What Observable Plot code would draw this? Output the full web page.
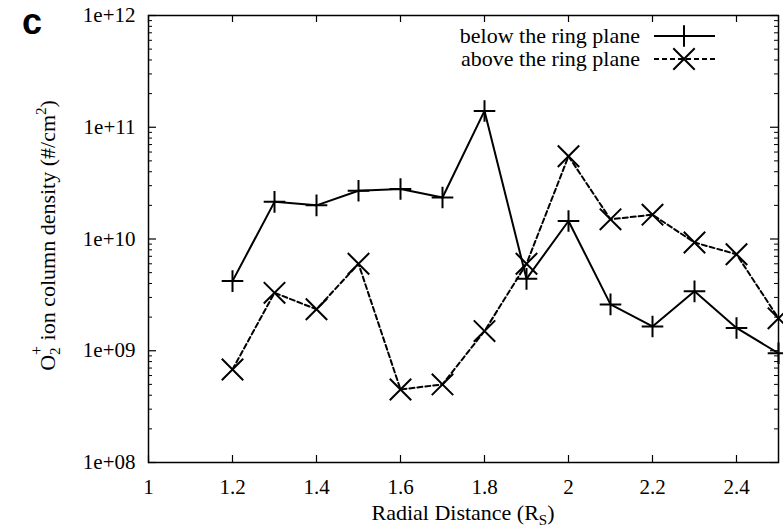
<!DOCTYPE html>
<html><head><meta charset="utf-8">
<script src="https://cdn.jsdelivr.net/npm/d3@7"></script>
<script src="https://cdn.jsdelivr.net/npm/@observablehq/plot@0.6"></script>
<style>body{margin:0;background:#fff}#chart{width:783px;height:527px}</style>
</head><body><div id="chart"></div>
<script>
// ---- data ----
const radial = [1.2, 1.3, 1.4, 1.5, 1.6, 1.7, 1.8, 1.9, 2.0, 2.1, 2.2, 2.3, 2.4, 2.5];
const below  = [4.2e9, 2.15e10, 2.0e10, 2.7e10, 2.8e10, 2.35e10, 1.4e11, 4.4e9, 1.45e10, 2.6e9, 1.65e9, 3.4e9, 1.6e9, 9.5e8];
const above  = [6.8e8, 3.3e9, 2.35e9, 6.0e9, 4.5e8, 5.0e8, 1.5e9, 6.0e9, 5.5e10, 1.5e10, 1.65e10, 9.3e9, 7.3e9, 1.95e9];
const seriesNames = ["below the ring plane", "above the ring plane"];
const xTicks = [1, 1.2, 1.4, 1.6, 1.8, 2, 2.2, 2.4];
const yTicks = [1e8, 1e9, 1e10, 1e11, 1e12];
const yMinor = yTicks.slice(0, -1).flatMap(d => [2,3,4,5,6,7,8,9].map(k => k * d));

const belowData = radial.map((r, i) => ({r, v: below[i]}));
const aboveData = radial.map((r, i) => ({r, v: above[i]}));

// ---- layout ----
const W = 783, H = 527, mL = 148, mR = 5, mT = 15, mB = 65;
const fw = W - mL - mR, fh = H - mT - mB;
const serif = "'Liberation Serif', 'Times New Roman', serif";
const plusR = 7, timesR = 9.8;
const fmtY = d => "1e+" + String(Math.round(Math.log10(d))).padStart(2, "0");
const fmtX = d => String(+d.toFixed(1));

const ctx = document.createElement("canvas").getContext("2d");
function tw(s, size) { ctx.font = `${size}px ${serif}`; return ctx.measureText(s).width; }

function decorations(index, scales, values, dims) {
  const g = d3.create("svg:g").attr("font-family", serif).attr("fill", "#000");
  const cy = (dims.marginTop + dims.height - dims.marginBottom) / 2 - 3;
  const cx = (dims.marginLeft + dims.width - dims.marginRight) / 2;
  // panel letter
  g.append("text").attr("x", 22).attr("y", 34).attr("text-anchor", "start")
    .attr("font-family", "'Liberation Sans', Arial, sans-serif")
    .attr("font-weight", "bold").attr("font-size", 36).text("c");
  // x label
  const tx = g.append("text").attr("x", cx).attr("y", dims.height - 7)
    .attr("text-anchor", "middle").attr("font-size", 22);
  tx.append("tspan").text("Radial Distance (R");
  tx.append("tspan").attr("font-size", 15).attr("dy", 5).text("S");
  tx.append("tspan").attr("dy", -5).text(")");
  // y label: pieces laid out along the rotated baseline
  const pieces = [
    {s: "O", size: 22, dy: 0, adv: true},
    {s: "2", size: 15, dy: 5, adv: false},
    {s: "+", size: 16, dy: -13, adv: true},
    {s: " ion column density (#/cm", size: 22, dy: 0, adv: true},
    {s: "2", size: 15, dy: -9, adv: true},
    {s: ")", size: 22, dy: 0, adv: true}
  ];
  let total = 0;
  const pos = [];
  for (let i = 0; i < pieces.length; i++) {
    const p = pieces[i];
    pos.push(total);
    if (p.adv) {
      const w = tw(p.s, p.size);
      const prev = i > 0 && !pieces[i - 1].adv ? tw(pieces[i - 1].s, pieces[i - 1].size) : 0;
      total += Math.max(w, prev);
    }
  }
  pos[2] = pos[1]; // superscript sits above the subscript
  const gy = g.append("g").attr("transform", `translate(55,${cy}) rotate(-90)`);
  pieces.forEach((p, i) => {
    gy.append("text").attr("x", pos[i] - total / 2).attr("y", p.dy)
      .attr("text-anchor", "start").attr("font-size", p.size)
      .attr("xml:space", "preserve").style("white-space", "pre").text(p.s);
  });
  // legend
  const rx = dims.width - dims.marginRight;
  const rows = [
    {name: seriesNames[0], y: dims.marginTop + 21, dash: null, sym: d3.symbolPlus, r: plusR},
    {name: seriesNames[1], y: dims.marginTop + 44, dash: "5,3", sym: d3.symbolTimes, r: timesR}
  ];
  for (const row of rows) {
    g.append("text").attr("x", rx - 138).attr("y", row.y).attr("dy", "0.32em")
      .attr("text-anchor", "end").attr("font-size", 22).text(row.name);
    g.append("line").attr("x1", rx - 124).attr("x2", rx - 63).attr("y1", row.y).attr("y2", row.y)
      .attr("stroke", "#000").attr("stroke-width", 2).attr("stroke-dasharray", row.dash);
    g.append("path").attr("transform", `translate(${rx - 94},${row.y})`)
      .attr("d", d3.symbol(row.sym, Math.PI * row.r * row.r)())
      .attr("fill", "none").attr("stroke", "#000").attr("stroke-width", 2);
  }
  return g.node();
}

const chart = Plot.plot({
  width: W, height: H,
  marginLeft: mL, marginRight: mR, marginTop: mT, marginBottom: mB,
  style: {fontFamily: serif, fontSize: "21px", color: "#000", background: "#fff"},
  x: {domain: [1, 2.5]},
  y: {type: "log", domain: [1e8, 1e12]},
  marks: [
    // inward ticks, mirrored on all four sides
    Plot.tickX(xTicks, {x: d => d, insetTop: fh - 7, stroke: "#000", strokeWidth: 1.2}),
    Plot.tickX(xTicks, {x: d => d, insetBottom: fh - 7, stroke: "#000", strokeWidth: 1.2}),
    Plot.tickY(yTicks, {y: d => d, insetRight: fw - 8, stroke: "#000", strokeWidth: 1.2}),
    Plot.tickY(yTicks, {y: d => d, insetLeft: fw - 8, stroke: "#000", strokeWidth: 1.2}),
    Plot.tickY(yMinor, {y: d => d, insetRight: fw - 4, stroke: "#000", strokeWidth: 1}),
    Plot.tickY(yMinor, {y: d => d, insetLeft: fw - 4, stroke: "#000", strokeWidth: 1}),
    Plot.axisX({ticks: xTicks, tickFormat: fmtX, tickSize: 0, tickPadding: 17, label: null}),
    Plot.axisY({ticks: yTicks, tickFormat: fmtY, tickSize: 0, tickPadding: 13, label: null}),
    Plot.frame({stroke: "#000", strokeWidth: 1.5}),
    Plot.line(belowData, {x: "r", y: "v", stroke: "#000", strokeWidth: 2}),
    Plot.line(aboveData, {x: "r", y: "v", stroke: "#000", strokeWidth: 2, strokeDasharray: "5,3"}),
    Plot.dot(belowData, {x: "r", y: "v", symbol: "plus", r: plusR, stroke: "#000", strokeWidth: 2}),
    Plot.dot(aboveData, {x: "r", y: "v", symbol: "times", r: timesR, stroke: "#000", strokeWidth: 2}),
    decorations
  ]
});
document.getElementById("chart").append(chart);
</script>
</body></html>
